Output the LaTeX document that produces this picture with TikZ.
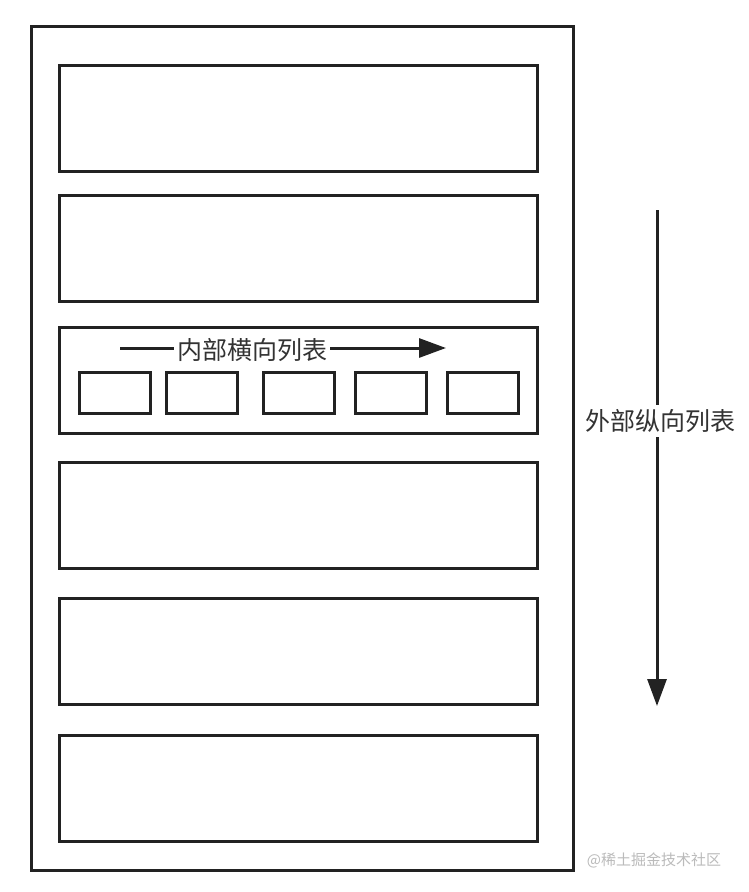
\documentclass[tikz,border=0pt]{standalone}
\usepackage{fontspec}
\newfontfamily\cjk{Noto Sans CJK SC}
\usetikzlibrary{arrows.meta}
\definecolor{ink}{HTML}{222222}
\definecolor{txt}{HTML}{333333}
\definecolor{wm}{HTML}{BBBBBB}
\tikzset{
  box/.style={draw=ink, line width=3pt, rectangle, inner sep=0pt, anchor=north west},
  rowbox/.style={box, minimum width=478pt, minimum height=106pt},
  cellbox/.style={box, minimum width=71pt, minimum height=41pt},
  arr/.style={draw=ink, line width=3pt, -{Triangle[length=27pt,width=19pt]}},
  lbl/.style={fill=white, inner sep=4pt, text=txt, font=\cjk\fontsize{25}{30}\selectfont},
}
\begin{document}
\begin{tikzpicture}[x=1pt,y=-1pt]
\useasboundingbox (0,0) rectangle (748,892);
\fill[white] (0,0) rectangle (748,892);
\node[box, minimum width=542pt, minimum height=844pt] (outer) at (30,25) {};
\node[rowbox] (r1) at (58,64) {};
\node[rowbox] (r2) at (58,194) {};
\node[rowbox] (r3) at (58,326) {};
\node[rowbox] (r4) at (58,461) {};
\node[rowbox] (r5) at (58,597) {};
\node[rowbox] (r6) at (58,734) {};
\node[cellbox] (c1) at (78,371) {};
\node[cellbox] (c2) at (165,371) {};
\node[cellbox] (c3) at (262,371) {};
\node[cellbox] (c4) at (354,371) {};
\node[cellbox] (c5) at (446,371) {};
\coordinate (hs) at (120,348);
\coordinate (he) at (446,348);
\draw[arr] (hs) -- (he);
\node[lbl, inner sep=3pt] (hl) at (252,350) {内部横向列表};
\coordinate (vs) at (657,210);
\coordinate (ve) at (657,706);
\draw[arr] (vs) -- (ve);
\node[lbl] (vl) at (660,421) {外部纵向列表};
\node[text=wm, font=\cjk\fontsize{15}{18}\selectfont, inner sep=0pt] (wmk) at (654,860) {@稀土掘金技术社区};
\end{tikzpicture}
\end{document}
